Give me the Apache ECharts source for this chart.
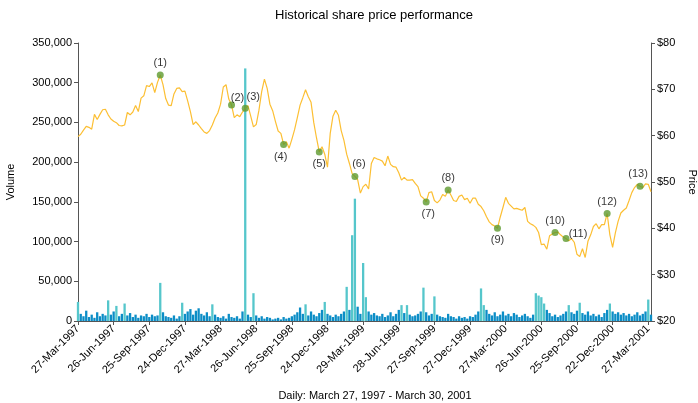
<!DOCTYPE html>
<html>
<head>
<meta charset="utf-8">
<script src="https://cdn.jsdelivr.net/npm/echarts@6/dist/echarts.min.js"></script>
<style>html,body{margin:0;padding:0;background:#fff;}#c{width:698px;height:403px;}</style>
</head>
<body>
<div id="c"></div>
<script>
// Tick labels on the category (roughly weekly) axis, one every 13 points
const tickLabels = ['27-Mar-1997','26-Jun-1997','25-Sep-1997','24-Dec-1997','27-Mar-1998','26-Jun-1998','25-Sep-1998','24-Dec-1998','29-Mar-1999','28-Jun-1999','27-Sep-1999','27-Dec-1999','27-Mar-2000','26-Jun-2000','25-Sep-2000','22-Dec-2000','27-Mar-2001'];
const pointsPerTick = 13;

// Price ($), roughly weekly samples
const price = [
59.8,60.3,61.2,62.0,61.8,61.4,64.6,63.5,64.6,65.6,
65.7,64.5,63.6,63.1,62.8,62.2,62.1,62.3,65.0,64.5,
65.1,66.5,65.2,68.1,68.6,70.8,70.6,71.4,69.3,71.5,
73.1,71.0,68.0,66.6,66.5,69.0,70.2,70.3,69.5,69.6,
67.5,65.2,62.4,63.0,62.3,61.5,60.8,60.5,61.1,62.3,
63.8,64.9,66.8,70.5,71.0,67.9,66.6,63.9,64.5,64.1,
65.1,65.9,66.5,64.2,61.9,62.4,65.5,69.5,72.2,70.2,
66.8,65.4,63.1,61.0,60.5,58.1,58.7,57.3,59.2,61.3,
63.9,66.6,68.2,69.9,68.4,67.2,62.8,59.5,56.5,57.6,
56.0,53.2,60.5,64.2,65.5,64.4,61.1,59.0,56.0,54.0,
51.8,51.2,50.5,47.6,49.0,49.5,48.5,54.0,55.3,55.0,
54.8,54.5,53.5,55.6,53.8,53.3,53.2,52.0,50.4,51.0,
50.4,50.4,50.5,49.7,49.0,47.0,46.5,45.7,47.7,47.9,
46.0,45.5,46.1,47.3,46.9,48.3,47.2,46.0,45.8,46.9,
47.2,46.2,46.5,45.4,46.5,46.5,45.2,44.7,43.8,42.5,
41.4,40.8,40.5,40.0,42.4,44.5,46.7,45.4,44.8,44.2,
44.3,44.1,43.9,44.5,41.5,41.0,40.7,40.2,39.1,36.5,
36.6,35.5,38.4,38.8,39.1,39.2,38.6,38.1,37.8,37.3,
37.8,37.0,34.4,33.9,35.6,33.7,37.2,38.6,40.4,41.0,
39.9,40.8,40.8,43.2,38.6,35.9,39.0,41.5,43.3,43.9,
44.4,46.0,47.7,48.8,49.5,49.1,48.8,49.6,49.5,47.9
];

// Volume (shares), same sampling
const volume = [
24000,9000,6000,13000,5000,8000,4000,11000,6000,9000,
7000,26000,8000,12000,19000,6000,9000,22000,7000,10000,
5000,8000,4000,7000,6000,9000,5000,8000,6000,7000,
48000,11000,6000,5000,4000,7000,3000,6000,23000,9000,
12000,15000,8000,13000,16000,9000,7000,11000,6000,21000,
8000,5000,4000,6000,3000,9000,5000,4000,6000,3000,
12000,318000,8000,5000,35000,7000,4000,6000,3000,5000,
4000,2000,3000,4000,2000,5000,3000,4000,6000,8000,
11000,17000,9000,21000,7000,12000,8000,6000,10000,14000,
24000,9000,7000,5000,8000,6000,9000,12000,43000,14000,
108000,154000,18000,9000,73000,30000,12000,8000,10000,7000,
6000,9000,5000,7000,11000,6000,9000,14000,20000,10000,
20000,8000,6000,7000,9000,12000,42000,11000,7000,9000,
31000,8000,6000,5000,4000,9000,6000,5000,3000,6000,
4000,5000,3000,6000,5000,8000,12000,41000,20000,14000,
9000,7000,11000,6000,8000,12000,7000,9000,6000,10000,
8000,5000,7000,9000,6000,4000,8000,35000,32000,30000,
22000,14000,10000,6000,8000,5000,7000,9000,12000,20000,
11000,9000,13000,23000,10000,8000,12000,7000,9000,6000,
8000,5000,10000,14000,22000,12000,9000,11000,8000,10000,
7000,9000,6000,8000,11000,7000,9000,12000,27000,8000
];

// Annotated events: position (index into the series) and label
const markerIdx = [30,56,61,75,88,101,127,135,153,174,178,193,205];
const markerText = ['(1)','(2)','(3)','(4)','(5)','(6)','(7)','(8)','(9)','(10)','(11)','(12)','(13)'];

const titleText = 'Historical share price performance';
const footText = 'Daily: March 27, 1997 - March 30, 2001';

// ---- styling / layout ----
const FONT = '"Liberation Sans", Arial, Helvetica, sans-serif';
const labelPlace = [
  {position:'top'}, {position:'top', offset:[6,5]}, {position:'top', offset:[8,1]},
  {position:'bottom', offset:[-3,0]}, {position:'bottom'}, {position:'top', offset:[4,0]},
  {position:'bottom', offset:[2,0]}, {position:'top'}, {position:'bottom'},
  {position:'top'}, {position:'top', offset:[12,7]}, {position:'top'}, {position:'top', offset:[-2,0]}
];

const cats = price.map((_, i) => i);

const chart = echarts.init(document.getElementById('c'), null, {renderer:'canvas'});
chart.setOption({
  animation: false,
  backgroundColor: '#fff',
  textStyle: {fontFamily: FONT},
  title: [
    {text: titleText, left: 369, top: 4, textAlign: 'center',
     textStyle: {fontFamily: FONT, fontSize: 13, fontWeight: 'normal', color: '#000'}},
    {text: footText, left: 370, top: 385, textAlign: 'center',
     textStyle: {fontFamily: FONT, fontSize: 11, fontWeight: 'normal', color: '#000'}}
  ],
  grid: {left: 78, right: 47, top: 43, bottom: 82, containLabel: false, outerBoundsMode: 'none'},
  xAxis: {
    type: 'category', data: cats, boundaryGap: false,
    axisLine: {lineStyle: {color: '#555', width: 1}},
    axisTick: {interval: pointsPerTick - 1, length: 4, lineStyle: {color: '#555'}},
    axisLabel: {
      interval: pointsPerTick - 1, rotate: 45, fontSize: 11, color: '#000', margin: 6,
      fontFamily: FONT,
      formatter: (v, idx) => (idx % pointsPerTick === 0 ? (tickLabels[idx / pointsPerTick] || '') : '')
    },
    splitLine: {show: false}
  },
  yAxis: [
    {
      type: 'value', min: 0, max: 350000, interval: 50000, position: 'left',
      name: 'Volume', nameLocation: 'middle', nameGap: 62, nameRotate: 90,
      nameTextStyle: {fontFamily: FONT, fontSize: 11, color: '#000'},
      axisLine: {show: true, lineStyle: {color: '#555'}},
      axisTick: {show: true, length: 4, lineStyle: {color: '#555'}},
      axisLabel: {fontSize: 11, color: '#000', margin: 6, fontFamily: FONT,
        formatter: v => v.toLocaleString('en-US')},
      splitLine: {show: false}
    },
    {
      type: 'value', min: 20, max: 80, interval: 10, position: 'right',
      name: 'Price', nameLocation: 'middle', nameGap: 36, nameRotate: -90,
      nameTextStyle: {fontFamily: FONT, fontSize: 11, color: '#000'},
      axisLine: {show: true, lineStyle: {color: '#555'}},
      axisTick: {show: true, length: 4, lineStyle: {color: '#555'}},
      axisLabel: {fontSize: 11, color: '#000', margin: 6, fontFamily: FONT,
        formatter: v => '$' + v},
      splitLine: {show: false}
    }
  ],
  series: [
    {
      type: 'bar', name: 'Volume', yAxisIndex: 0, data: volume,
      barWidth: 2.3, barGap: '-100%',
      itemStyle: {color: p => (p.value > 18000 ? '#55C6CB' : '#0B8DC6')},
      z: 1
    },
    {
      type: 'line', name: 'Price', yAxisIndex: 1, data: price,
      showSymbol: false, symbol: 'none',
      lineStyle: {color: '#FCBF33', width: 1.2},
      z: 3
    },
    {
      type: 'scatter', name: 'Events', yAxisIndex: 1,
      data: markerIdx.map((idx, k) => ({
        value: [idx, price[idx]],
        label: Object.assign({show: true, formatter: markerText[k]}, labelPlace[k])
      })),
      symbolSize: 7,
      itemStyle: {color: '#5E9A2E'},
      label: {show: true, fontSize: 11, color: '#000', fontFamily: FONT, distance: 3},
      z: 5
    }
  ]
});
</script>
</body>
</html>
